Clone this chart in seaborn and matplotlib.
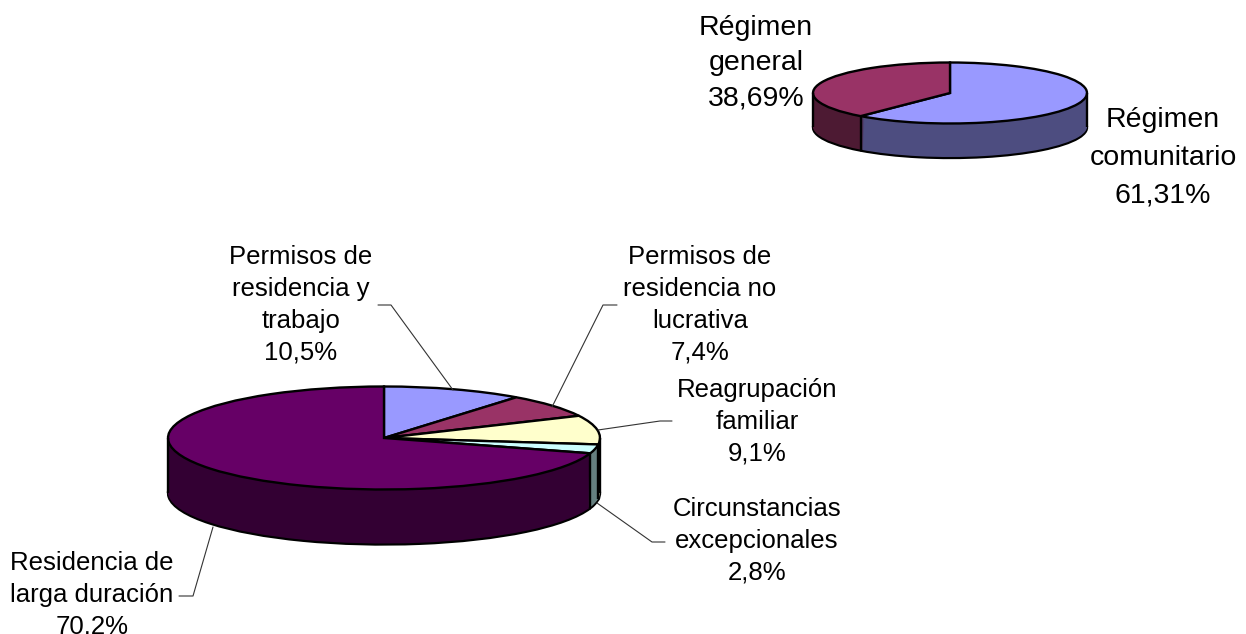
import numpy as np
import matplotlib
matplotlib.use("Agg")
import matplotlib.pyplot as plt
import seaborn as sns

# pie data
regimenValues = [61.31, 38.69]
regimenLabels = ["Régimen\ncomunitario", "Régimen\ngeneral"]
permisoValues = [10.5, 7.4, 9.1, 2.8, 70.2]
permisoLabels = ["Permisos de\nresidencia y\ntrabajo", "Permisos de\nresidencia no\nlucrativa",
                 "Reagrupación\nfamiliar", "Circunstancias\nexcepcionales", "Residencia de\nlarga duración"]

topColors = sns.color_palette(["#9999FF", "#993366", "#FFFFCC", "#CCFFFF", "#660066"])
wallColors = sns.color_palette(["#4D4D80", "#4D1A33", "#808066", "#668080", "#330033"])

W, H = 1246, 634
sns.set_theme(style="white")
plt.rcParams['font.family'] = ['Liberation Sans', 'DejaVu Sans']

fig = plt.figure(figsize=(W / 100, H / 100), dpi=100)


def drawPie(values, cx, cy, rx, ry, depth):
    # one axes per pie so the circle can be squashed to the ellipse
    pad = 6
    d = depth / ry
    ax = fig.add_axes([(cx - rx - pad) / W, 1 - (cy + ry + depth + pad) / H,
                       (2 * rx + 2 * pad) / W, (2 * ry + depth + 2 * pad) / H])
    n = len(values)
    lw = 1.7
    # bottom rim
    ax.pie(values, colors=["black"] * n, center=(0, -d), startangle=90, counterclock=False,
           wedgeprops={"edgecolor": "black", "linewidth": lw})
    # wall built up from layers
    for off in np.linspace(d - 1 / ry, 0, int(depth) + 1):
        ax.pie(values, colors=wallColors[:n], center=(0, -off),
               startangle=90, counterclock=False, wedgeprops={"edgecolor": "none", "linewidth": 0})
    # seams and silhouette
    angles = np.cumsum(values) / np.sum(values) * 2 * np.pi
    seams = [np.sin(a) for a in angles if np.cos(a) < 0] + [-1, 1]
    for x in seams:
        y = -np.sqrt(1 - x ** 2) if abs(x) < 1 else 0
        ax.plot([x, x], [y, y - d], color="black", lw=lw, solid_capstyle="butt")
    ax.pie(values, colors=topColors[:n], center=(0, 0), startangle=90, counterclock=False,
           wedgeprops={"edgecolor": "black", "linewidth": lw})
    ax.set_aspect("auto")
    ax.set_xlim(-(rx + pad) / rx, (rx + pad) / rx)
    ax.set_ylim(-(ry + depth + pad) / ry, (ry + pad) / ry)
    ax.axis("off")


drawPie(regimenValues, 950, 93, 137, 30.5, 34.5)
drawPie(permisoValues, 384, 438, 216, 51.5, 55)

# overlay for labels and leader lines, in pixels
over = fig.add_axes([0, 0, 1, 1], zorder=5)
over.set_xlim(0, W)
over.set_ylim(H, 0)
over.axis("off")
over.patch.set_alpha(0)


def fmt(v):
    s = f"{v:.2f}" if round(v, 1) != v else f"{v:.1f}"
    return s.replace(".", ",") + "%"


over.text(756, 63, regimenLabels[1] + "\n" + fmt(regimenValues[1]), ha="center", va="center",
          fontsize=20.5, linespacing=1.47, color="black")
over.text(1163, 158, regimenLabels[0] + "\n" + fmt(regimenValues[0]), ha="center", va="center",
          fontsize=20.5, linespacing=1.59, color="black")

# the last label runs to the bottom edge, as it does in the original
labelSpots = [(301, 305), (700, 305), (757, 422), (757, 541), (92, 595)]
for name, val, (x, y) in zip(permisoLabels, permisoValues, labelSpots):
    over.text(x, y, name + "\n" + fmt(val), ha="center", va="center", fontsize=18.5,
              linespacing=1.41, color="black")

leaders = [([378, 391, 453], [305, 305, 390]),
           ([617, 603, 552], [305, 305, 407]),
           ([672, 660, 598], [421, 421, 430]),
           ([665, 652, 597], [542, 542, 503]),
           ([179, 193, 213], [596, 596, 527])]
for xs, ys in leaders:
    over.plot(xs, ys, color="#333333", lw=0.8)

plt.savefig("out.png", dpi=100)
plt.close()
